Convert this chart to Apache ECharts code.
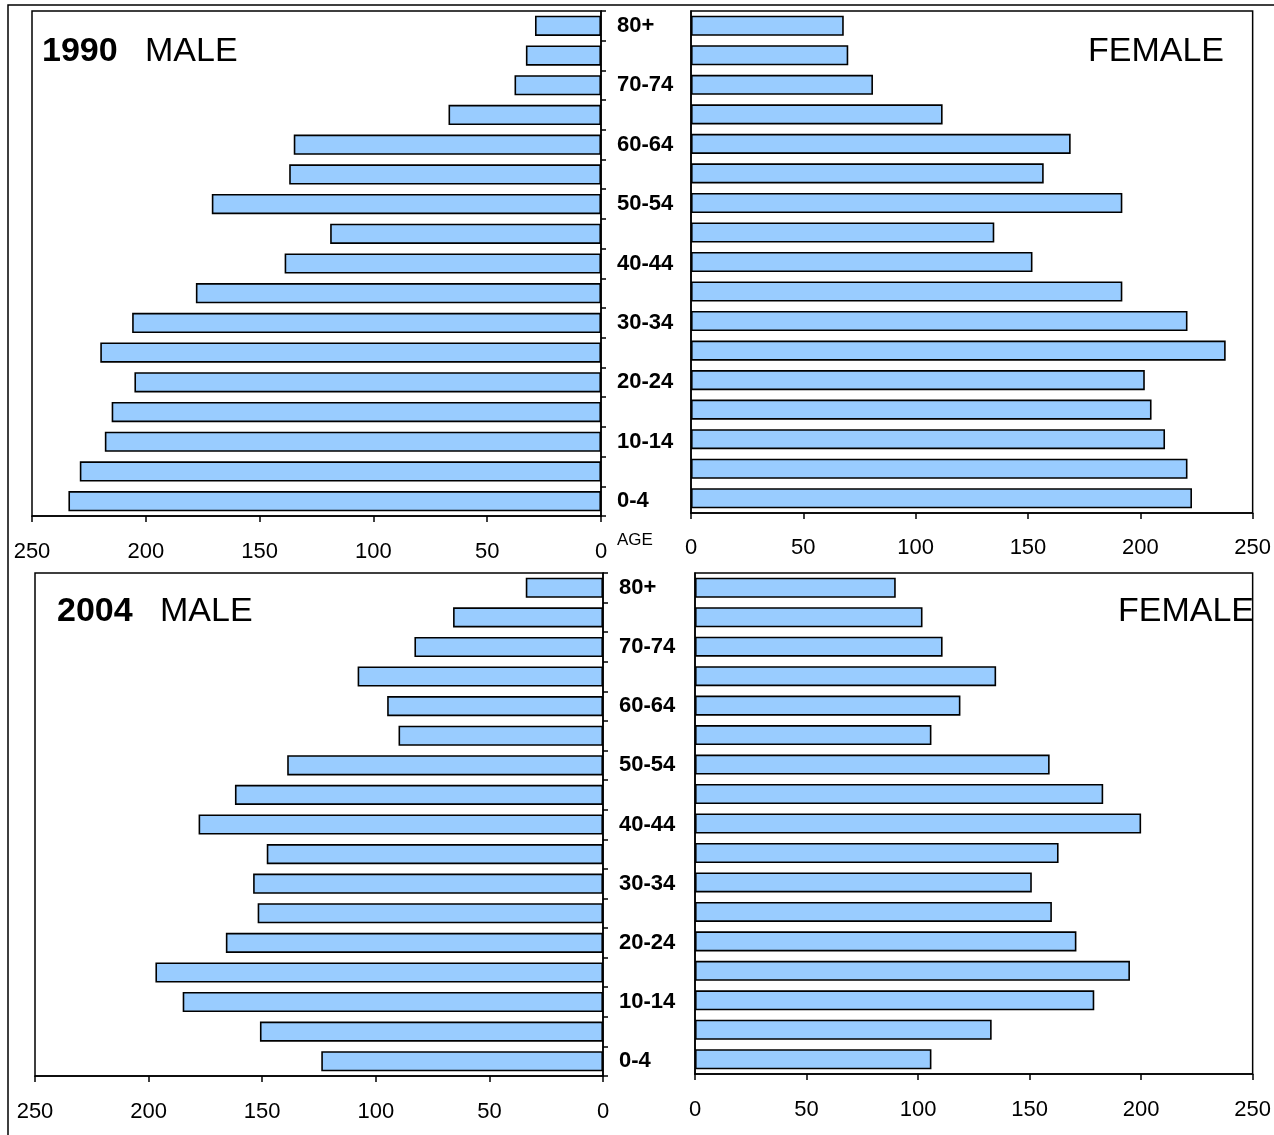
<!DOCTYPE html>
<html>
<head>
<meta charset="utf-8">
<script src="https://cdn.jsdelivr.net/npm/echarts@6/dist/echarts.min.js"></script>
<style>
html,body{margin:0;padding:0;background:#fff;}
#chart{width:1274px;height:1135px;}
</style>
</head>
<body>
<div id="chart"></div>
<script>
const ageGroups = ['0-4','5-9','10-14','15-19','20-24','25-29','30-34','35-39','40-44','45-49','50-54','55-59','60-64','65-69','70-74','75-79','80+'];
const male1990   = [234, 229, 218, 215, 205, 220, 206, 178, 139, 119, 171, 137, 135, 67, 38, 33, 29];
const female1990 = [223, 221, 211, 205, 202, 238, 221, 192, 152, 135, 192, 157, 169, 112, 81, 70, 68];
const male2004   = [124, 151, 185, 197, 166, 152, 154, 148, 178, 162, 139, 90, 95, 108, 83, 66, 34];
const female2004 = [106, 133, 179, 195, 171, 160, 151, 163, 200, 183, 159, 106, 119, 135, 111, 102, 90];
const axisTicks = [0, 50, 100, 150, 200, 250];

const FONT = "'Liberation Sans', Arial, sans-serif";
const chart = echarts.init(document.getElementById('chart'), null, {renderer: 'canvas'});

const grids = [
  {left: 32, top: 11, width: 569, height: 505},
  {left: 691, top: 11, width: 562, height: 502},
  {left: 35, top: 573, width: 568, height: 503},
  {left: 695, top: 573, width: 560, height: 501}
];

function xAx(i, inverse, margin) {
  return {
    type: 'value', gridIndex: i, min: axisTicks[0], max: axisTicks[axisTicks.length - 1],
    interval: axisTicks[1] - axisTicks[0], inverse: inverse,
    axisLine: {show: true, lineStyle: {color: '#000', width: 1.5}},
    axisTick: {show: true, length: 6, lineStyle: {color: '#000', width: 1.5}},
    axisLabel: {color: '#000', fontSize: 22, fontFamily: FONT, margin: margin},
    splitLine: {show: false}
  };
}
function yAx(i, male) {
  return {
    type: 'category', gridIndex: i, data: ageGroups, position: male ? 'right' : 'left',
    axisLine: {show: true, onZero: false, lineStyle: {color: '#000', width: 1.5}},
    axisTick: {show: male, interval: 0, length: 5, inside: false, lineStyle: {color: '#000', width: 1.5}},
    axisLabel: {show: male, interval: 1, color: '#000', fontSize: 22, fontWeight: 'bold',
                fontFamily: FONT, margin: 16, align: 'left'},
    splitLine: {show: false}
  };
}
function bars(i, data) {
  return {
    type: 'bar', xAxisIndex: i, yAxisIndex: i, data: data, barCategoryGap: '32%',
    itemStyle: {color: '#99CCFF', borderColor: '#000', borderWidth: 1.6},
    silent: true, animation: false
  };
}

const option = {
  backgroundColor: '#fff',
  animation: false,
  grid: grids.map(g => Object.assign({show: true, borderColor: '#000', borderWidth: 1.5, backgroundColor: 'transparent'}, g)),
  xAxis: [xAx(0, true, 25), xAx(1, false, 24), xAx(2, true, 25), xAx(3, false, 25)],
  yAxis: [yAx(0, true), yAx(1, false), yAx(2, true), yAx(3, false)],
  series: [bars(0, male1990), bars(1, female1990), bars(2, male2004), bars(3, female2004)],
  graphic: [
    {type: 'polyline', shape: {points: [[8, 1135], [8, 5], [1274, 5]]}, style: {stroke: '#000', lineWidth: 1.5, fill: null}},
    {type: 'text', left: 42, top: 35, style: {text: '1990', font: 'bold 34px ' + FONT, fill: '#000'}},
    {type: 'text', left: 145, top: 35, style: {text: 'MALE', font: '34px ' + FONT, fill: '#000'}},
    {type: 'text', right: 1274 - 1224, top: 35, style: {text: 'FEMALE', font: '34px ' + FONT, fill: '#000'}},
    {type: 'text', left: 57, top: 595, style: {text: '2004', font: 'bold 34px ' + FONT, fill: '#000'}},
    {type: 'text', left: 160, top: 595, style: {text: 'MALE', font: '34px ' + FONT, fill: '#000'}},
    {type: 'text', right: 1274 - 1254, top: 595, style: {text: 'FEMALE', font: '34px ' + FONT, fill: '#000'}},
    {type: 'text', left: 617, top: 532, style: {text: 'AGE', font: '17px ' + FONT, fill: '#000'}}
  ]
};
chart.setOption(option);
</script>
</body>
</html>
